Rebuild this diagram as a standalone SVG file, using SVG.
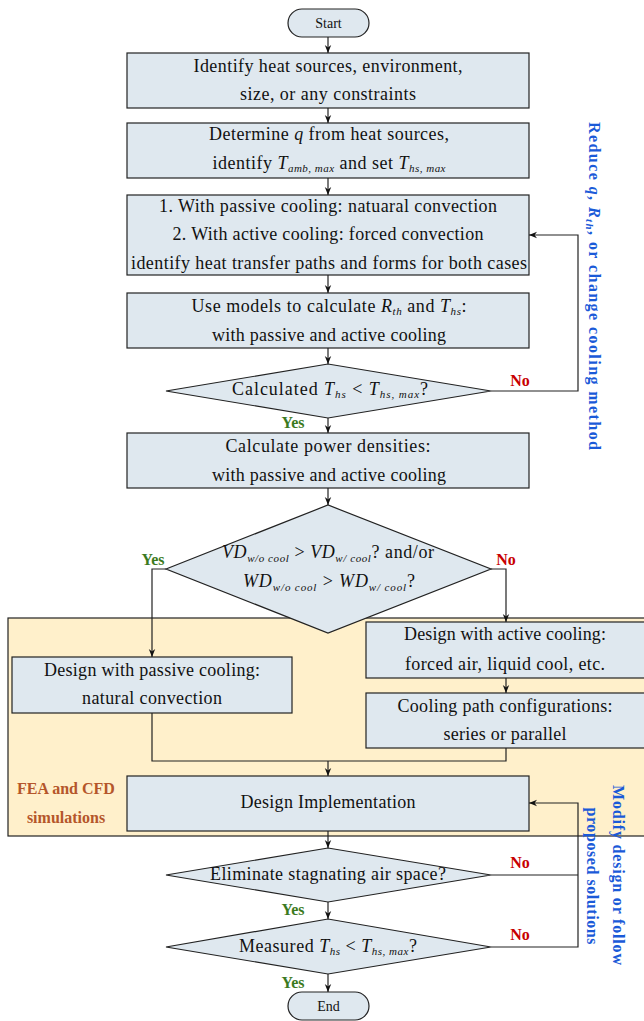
<svg xmlns="http://www.w3.org/2000/svg" width="644" height="1021" viewBox="0 0 644 1021">
<style>
.box{fill:#dfe8ef;stroke:#222;stroke-width:1.2}
.t{font-family:"Liberation Serif",serif;font-size:18px;fill:#111;text-anchor:middle}
.ts{font-family:"Liberation Serif",serif;font-size:14px;fill:#111;text-anchor:middle}
.m{font-style:italic}
.sub{font-style:italic;font-size:11px}
.line{fill:none;stroke:#222;stroke-width:1.2}
.yes{font-family:"Liberation Serif",serif;font-weight:bold;font-size:16px;fill:#3b7a1e;text-anchor:middle}
.no{font-family:"Liberation Serif",serif;font-weight:bold;font-size:16px;fill:#c80000;text-anchor:middle}
.blue{font-family:"Liberation Serif",serif;font-weight:bold;font-size:16px;fill:#1a5ad8;text-anchor:middle}
.brown{font-family:"Liberation Serif",serif;font-weight:bold;font-size:16px;fill:#b5562a;text-anchor:middle}
</style>
<defs>
<marker id="arr" viewBox="0 0 10 10" refX="10" refY="5" markerWidth="8" markerHeight="8" markerUnits="userSpaceOnUse" orient="auto">
<path d="M0,1 L10,5 L0,9 L3,5 Z" fill="#111"/>
</marker>
</defs>
<rect id="sim-region" x="8" y="618" width="650" height="218" fill="#fff0cb" stroke="#222" stroke-width="1.2"/>
<g id="start"><rect class="box" x="288" y="9" width="81" height="28" rx="14"/><text class="ts" x="328.5" y="28">Start</text></g>
<g id="n1"><rect class="box" x="127" y="53" width="402" height="55"/>
<text class="t" x="328" y="72" textLength="269">Identify heat sources, environment,</text>
<text class="t" x="328" y="100" textLength="176">size, or any constraints</text></g>
<g id="n2"><rect class="box" x="127" y="123" width="402" height="55"/>
<text class="t" x="329" y="140" textLength="240">Determine <tspan class="m">q</tspan> from heat sources,</text>
<text class="t" x="329" y="169" textLength="233">identify <tspan class="m">T</tspan><tspan class="sub" dy="3">amb, max</tspan><tspan dy="-3"> and set </tspan><tspan class="m">T</tspan><tspan class="sub" dy="3">hs, max</tspan></text></g>
<g id="n3"><rect class="box" x="127" y="195" width="402" height="80"/>
<text class="t" x="328" y="212" textLength="338">1. With passive cooling: natuaral convection</text>
<text class="t" x="328" y="240" textLength="311">2. With active cooling: forced convection</text>
<text class="t" x="329" y="269" textLength="396">identify heat transfer paths and forms for both cases</text></g>
<g id="n4"><rect class="box" x="127" y="293" width="402" height="55"/>
<text class="t" x="329" y="312" textLength="275">Use models to calculate <tspan class="m">R</tspan><tspan class="sub" dy="3">th</tspan><tspan dy="-3"> and </tspan><tspan class="m">T</tspan><tspan class="sub" dy="3">hs</tspan><tspan dy="-3">:</tspan></text>
<text class="t" x="329" y="341" textLength="234">with passive and active cooling</text></g>
<g id="d1"><polygon class="box" points="166,391 328,364 491,391 328,418"/>
<text class="t" x="330" y="395" textLength="196">Calculated <tspan class="m">T</tspan><tspan class="sub" dy="3">hs</tspan><tspan dy="-3"> &lt; </tspan><tspan class="m">T</tspan><tspan class="sub" dy="3">hs, max</tspan><tspan dy="-3">?</tspan></text></g>
<g id="n5"><rect class="box" x="127" y="433" width="402" height="55"/>
<text class="t" x="328" y="452" textLength="205">Calculate power densities:</text>
<text class="t" x="329" y="481" textLength="234">with passive and active cooling</text></g>
<g id="d2"><polygon class="box" points="166,569 328,505 491,569 328,633"/>
<text class="t" x="328" y="558" textLength="212"><tspan class="m">VD</tspan><tspan class="sub" dy="4">w/o cool</tspan><tspan dy="-4"> &gt; </tspan><tspan class="m">VD</tspan><tspan class="sub" dy="4">w/ cool</tspan><tspan dy="-4">? and/or</tspan></text>
<text class="t" x="329" y="587" textLength="172"><tspan class="m">WD</tspan><tspan class="sub" dy="4">w/o cool</tspan><tspan dy="-4"> &gt; </tspan><tspan class="m">WD</tspan><tspan class="sub" dy="4">w/ cool</tspan><tspan dy="-4">?</tspan></text></g>
<g id="n6"><rect class="box" x="366" y="622" width="290" height="56"/>
<text class="t" x="505" y="640" textLength="202">Design with active cooling:</text>
<text class="t" x="505" y="670" textLength="200">forced air, liquid cool, etc.</text></g>
<g id="n7"><rect class="box" x="366" y="693" width="290" height="55"/>
<text class="t" x="505" y="712" textLength="215">Cooling path configurations:</text>
<text class="t" x="505" y="740" textLength="123">series or parallel</text></g>
<g id="n8"><rect class="box" x="12" y="657" width="280" height="56"/>
<text class="t" x="152" y="676" textLength="216">Design with passive cooling:</text>
<text class="t" x="152" y="704" textLength="140">natural convection</text></g>
<g id="n9"><rect class="box" x="127" y="776" width="402" height="55"/>
<text class="t" x="328" y="808" textLength="175">Design Implementation</text></g>
<g id="d3"><polygon class="box" points="166,875 328,848 491,875 328,902"/>
<text class="t" x="328" y="880" textLength="236">Eliminate stagnating air space?</text></g>
<g id="d4"><polygon class="box" points="166,947 328,919 491,947 328,974"/>
<text class="t" x="328" y="952" textLength="178">Measured <tspan class="m">T</tspan><tspan class="sub" dy="3">hs</tspan><tspan dy="-3"> &lt; </tspan><tspan class="m">T</tspan><tspan class="sub" dy="3">hs, max</tspan><tspan dy="-3">?</tspan></text></g>
<g id="end"><rect class="box" x="288" y="992" width="81" height="28" rx="14"/><text class="ts" x="328.5" y="1011">End</text></g>
<g id="connectors">
<line class="line" x1="328" y1="37" x2="328" y2="53" marker-end="url(#arr)"/>
<line class="line" x1="328" y1="108" x2="328" y2="123" marker-end="url(#arr)"/>
<line class="line" x1="328" y1="178" x2="328" y2="195" marker-end="url(#arr)"/>
<line class="line" x1="328" y1="275" x2="328" y2="293" marker-end="url(#arr)"/>
<line class="line" x1="328" y1="348" x2="328" y2="364" marker-end="url(#arr)"/>
<line class="line" x1="328" y1="418" x2="328" y2="433" marker-end="url(#arr)"/>
<line class="line" x1="328" y1="488" x2="328" y2="505" marker-end="url(#arr)"/>
<polyline class="line" points="491,391 578,391 578,235 529,235" marker-end="url(#arr)"/>
<polyline class="line" points="166,569 152,569 152,657" marker-end="url(#arr)"/>
<polyline class="line" points="491,569 506,569 506,622" marker-end="url(#arr)"/>
<line class="line" x1="506" y1="678" x2="506" y2="693" marker-end="url(#arr)"/>
<polyline class="line" points="152,713 152,761 506,761 506,748"/>
<line class="line" x1="328" y1="761" x2="328" y2="776" marker-end="url(#arr)"/>
<line class="line" x1="328" y1="831" x2="328" y2="848" marker-end="url(#arr)"/>
<line class="line" x1="328" y1="902" x2="328" y2="919" marker-end="url(#arr)"/>
<line class="line" x1="328" y1="974" x2="328" y2="992" marker-end="url(#arr)"/>
<line class="line" x1="491" y1="875" x2="578" y2="875"/>
<polyline class="line" points="491,947 578,947 578,803 529,803" marker-end="url(#arr)"/>
</g>
<g id="labels">
<text class="no" x="520" y="386">No</text>
<text class="yes" x="293" y="428">Yes</text>
<text class="yes" x="153" y="565">Yes</text>
<text class="no" x="506" y="565">No</text>
<text class="no" x="520" y="868">No</text>
<text class="yes" x="293" y="915">Yes</text>
<text class="no" x="520" y="940">No</text>
<text class="yes" x="293" y="988">Yes</text>
<text class="brown" x="66" y="794">FEA and CFD</text>
<text class="brown" x="66" y="823">simulations</text>
<text class="blue" transform="translate(589,286) rotate(90)" textLength="328">Reduce <tspan font-style="italic">q</tspan>, <tspan font-style="italic">R</tspan><tspan font-style="italic" font-size="11" dy="3">th</tspan><tspan dy="-3">, or change cooling method</tspan></text>
<text class="blue" transform="translate(613,875) rotate(90)" textLength="180">Modify design or follow</text>
<text class="blue" transform="translate(587,876) rotate(90)" textLength="137">proposed solutions</text>
</g>
</svg>
